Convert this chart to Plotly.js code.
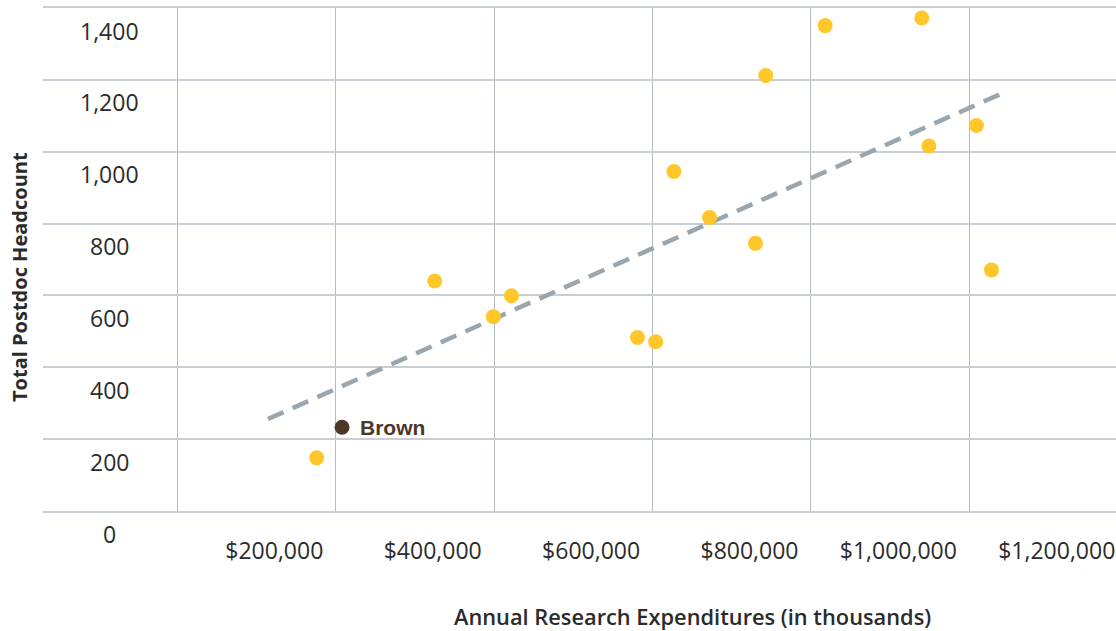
<!DOCTYPE html>
<html>
<head>
<meta charset="utf-8">
<script src="https://cdn.plot.ly/plotly-3.0.1.min.js"></script>
<style>
  html, body { margin: 0; padding: 0; background: #ffffff; }
  #chart { width: 1116px; height: 631px; }
</style>
</head>
<body>
<div id="chart"></div>
<script>
// Peer institutions: annual research expenditures (in thousands) and total postdoc headcount
const peerExpenditures = [376000, 525000, 599000, 622000, 781000, 804000, 827000, 872000, 930000, 943000, 1018000, 1140000, 1149000, 1209000, 1228000];
const peerPostdocs     = [148, 640, 541, 599, 483, 471, 945, 817, 745, 1212, 1351, 1372, 1016, 1073, 671];

// Brown
const brownLabel = ["Brown"];
const brownExpenditure = [408000];
const brownPostdocs = [233];

// Trend line end points
const trendX = [314500, 1241000];
const trendY = [256, 1162];

// Axis ticks
const xTickVals = [200000, 400000, 600000, 800000, 1000000, 1200000];
const xTickText = ["$200,000", "$400,000", "$600,000", "$800,000", "$1,000,000", "$1,200,000"];
const yTickVals = [0, 200, 400, 600, 800, 1000, 1200, 1400];
const yTickText = ["0", "200", "400", "600", "800", "1,000", "1,200", "1,400"];

const xTitle = "Annual Research Expenditures (in thousands)";
const yTitle = "Total Postdoc Headcount";

const labelFont = "'Open Sans', 'DejaVu Sans', sans-serif";
const textColor = "#2b2b2b";

const traces = [
  {
    type: "scatter", mode: "lines",
    x: trendX, y: trendY,
    line: { color: "#9aa5ad", width: 4.5, dash: "17px,10px" },
    hoverinfo: "skip"
  },
  {
    type: "scatter", mode: "markers",
    x: peerExpenditures, y: peerPostdocs,
    marker: { color: "#ffc72c", size: 15, line: { width: 0 } },
    hoverinfo: "skip"
  },
  {
    type: "scatter", mode: "markers",
    x: brownExpenditure, y: brownPostdocs,
    marker: { color: "#4e3629", size: 15, line: { width: 0 } },
    hoverinfo: "skip"
  }
];

const plotLeft = 43, plotWidth = 1073, plotTop = 7.5, plotBottom = 511.5;

const annotations = [];
yTickVals.forEach((v, i) => {
  annotations.push({
    xref: "paper", yref: "y",
    x: (109.5 - plotLeft) / plotWidth, y: v,
    xanchor: "center", yanchor: "middle",
    yshift: -22.5,
    text: yTickText[i], showarrow: false,
    font: { family: labelFont, size: 23, color: textColor }
  });
});
annotations.push({
  xref: "x", yref: "y",
  x: brownExpenditure[0], y: brownPostdocs[0],
  xanchor: "left", yanchor: "middle", xshift: 16,
  text: "<b>" + brownLabel[0] + "</b>", showarrow: false,
  font: { family: "'Liberation Sans', Arial, sans-serif", size: 21, color: "#4e3629" }
});
annotations.push({
  xref: "paper", yref: "paper",
  x: (692 - plotLeft) / plotWidth, y: 0,
  xanchor: "center", yanchor: "middle", yshift: -(617 - plotBottom),
  text: xTitle, showarrow: false,
  font: { family: labelFont, size: 21.8, color: textColor, weight: 600 }
});
annotations.push({
  xref: "paper", yref: "paper",
  x: 0, y: 0.5, xshift: -(plotLeft - 19), yshift: -(277 - (plotTop + plotBottom) / 2),
  xanchor: "center", yanchor: "middle",
  text: "<b>" + yTitle + "</b>", textangle: -90, showarrow: false,
  font: { family: labelFont, size: 20, color: textColor }
});

const layout = {
  width: 1116, height: 631,
  margin: { l: plotLeft, r: 0, t: plotTop, b: 631 - plotBottom, pad: 0 },
  paper_bgcolor: "#ffffff", plot_bgcolor: "#ffffff",
  showlegend: false, hovermode: false,
  xaxis: {
    range: [30429, 1385227],
    tickmode: "array", tickvals: xTickVals, ticktext: xTickText,
    showgrid: true, gridcolor: "#b3bac1", gridwidth: 1,
    zeroline: false, showline: true, mirror: true,
    linecolor: "#c9ced4", linewidth: 2, ticks: "",
    ticklabelposition: "outside left", ticklabelshift: 147, ticklabeloverflow: "allow",
    ticklabelstandoff: 18,
    tickfont: { family: labelFont, size: 23, color: textColor }
  },
  yaxis: {
    range: [0, 1400],
    tickmode: "array", tickvals: yTickVals,
    showticklabels: false,
    showgrid: true, gridcolor: "#c9ced4", gridwidth: 2,
    zeroline: false, showline: false, ticks: ""
  },
  annotations: annotations
};

Plotly.newPlot("chart", traces, layout, { displayModeBar: false, staticPlot: true });
</script>
</body>
</html>
